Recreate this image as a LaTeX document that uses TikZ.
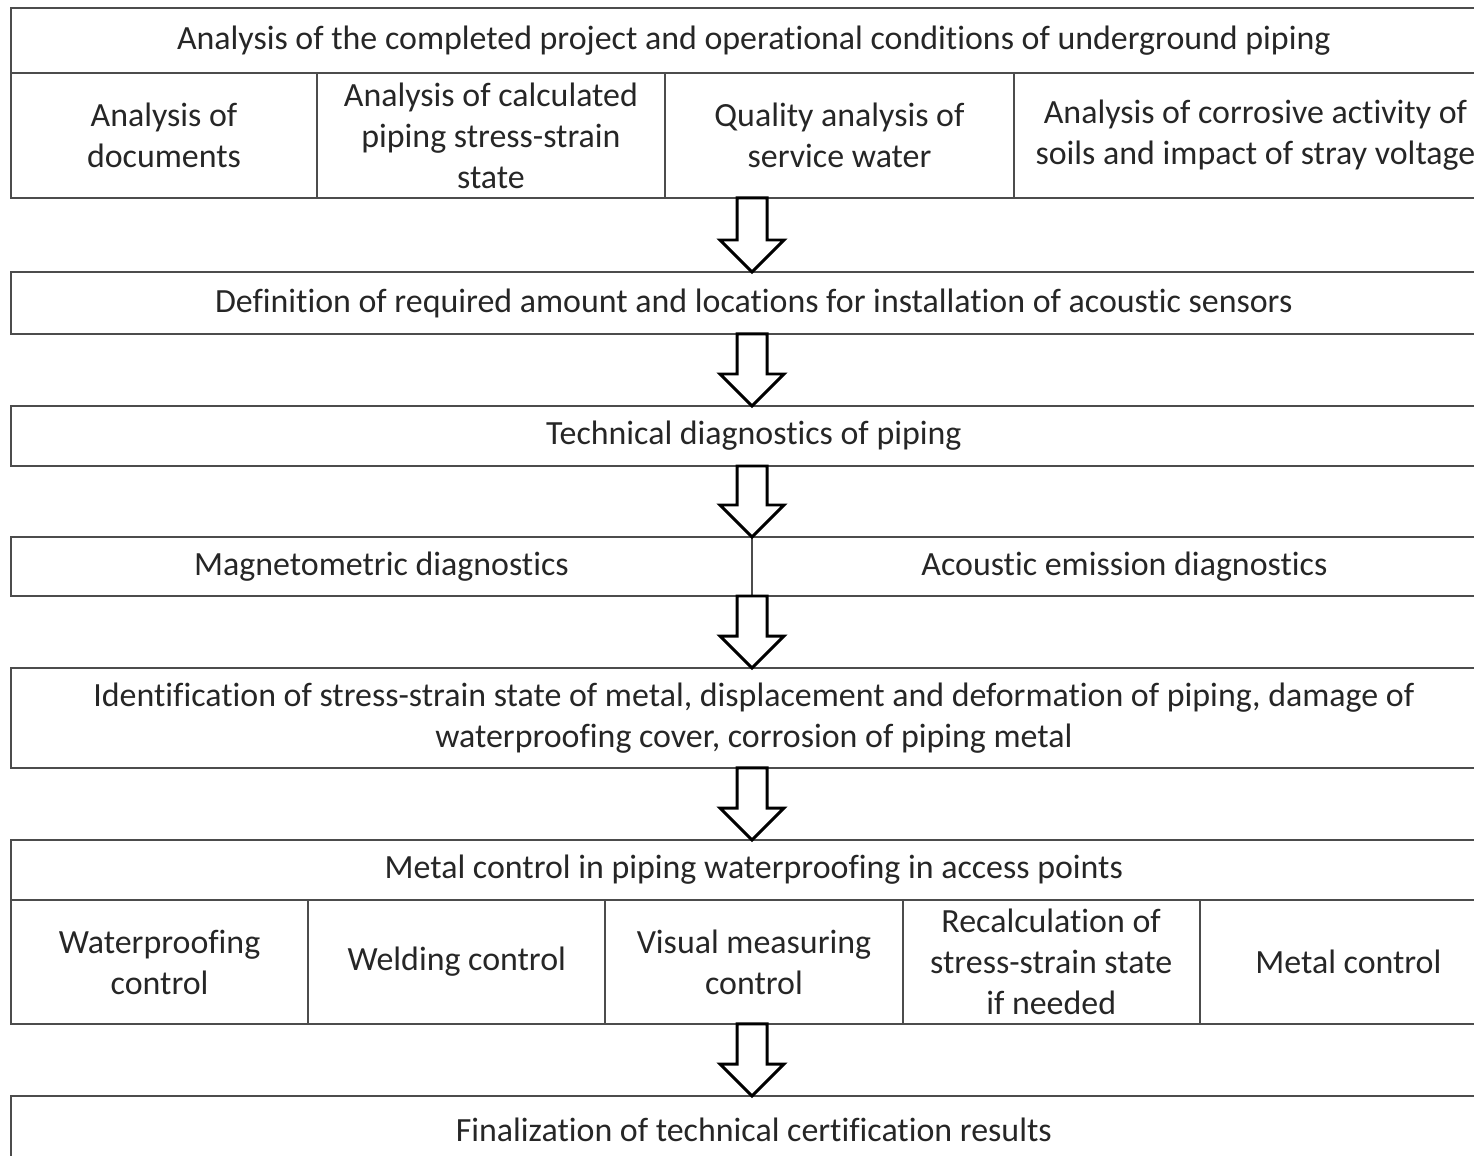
\documentclass[tikz,border=0pt]{standalone}
\usepackage{fontspec}
\setmainfont{Carlito}[Ligatures=NoCommon]
\usetikzlibrary{calc}

\newcommand{\hollowarrow}[2]{%
  \draw[hollow] ($(axis |- #1.south)+(-15,0)$) -- ($(axis |- #2.north)+(-15,-32)$)
    -- ($(axis |- #2.north)+(-32,-32)$) -- (axis |- #2.north)
    -- ($(axis |- #2.north)+(32,-32)$) -- ($(axis |- #2.north)+(15,-32)$)
    -- ($(axis |- #1.south)+(15,0)$) -- cycle;}

\begin{document}
\begin{tikzpicture}[x=0.02cm, y=-0.02cm,
  cell/.style={draw=black!70, line width=1.1pt, inner sep=0pt, outer sep=0pt,
    align=center, anchor=north west, text=black!85,
    font=\fontsize{19.3}{23.3}\selectfont},
  hollow/.style={draw=black, line width=1.7pt, line join=miter, fill=white}]
\useasboundingbox (0,0) rectangle (1474,1156);
\clip (0,0) rectangle (1474,1156);
\coordinate (axis) at (752,0);

% analysis stage
\node[cell, minimum width=29.72cm, minimum height=1.3cm] (survey) at (11,8) {Analysis of the completed project and operational conditions of underground piping};
\node[cell, minimum width=6.12cm, minimum height=2.5cm] (docs) at (11,73) {Analysis of\\documents};
\node[cell, minimum width=6.96cm, minimum height=2.5cm] (stress) at (317,73) {Analysis of calculated\\piping stress-strain\\state};
\node[cell, minimum width=6.98cm, minimum height=2.5cm] (water) at (665,73) {Quality analysis of\\service water};
\node[cell, minimum width=9.66cm, minimum height=2.5cm] (soil) at (1014,73) {Analysis of corrosive activity of\\soils and impact of stray voltage};

\node[cell, minimum width=29.72cm, minimum height=1.24cm] (sensors) at (11,272) {Definition of required amount and locations for installation of acoustic sensors};
\node[cell, minimum width=29.72cm, minimum height=1.2cm] (techdiag) at (11,406) {Technical diagnostics of piping};

% diagnostics
\node[cell, minimum width=14.82cm, minimum height=1.18cm] (magnet) at (11,537) {Magnetometric diagnostics};
\node[cell, minimum width=14.9cm, minimum height=1.18cm] (acoustic) at (752,537) {Acoustic emission diagnostics};

\node[cell, minimum width=29.72cm, minimum height=2cm] (ident) at (11,668) {Identification of stress-strain state of metal, displacement and deformation of piping, damage of\\waterproofing cover, corrosion of piping metal};

% metal control
\node[cell, minimum width=29.72cm, minimum height=1.2cm] (metal) at (11,840) {Metal control in piping waterproofing in access points};
\node[cell, minimum width=5.944cm, minimum height=2.48cm] (proof) at (11,900) {Waterproofing\\control};
\node[cell, minimum width=5.944cm, minimum height=2.48cm] (weld) at (308.2,900) {Welding control};
\node[cell, minimum width=5.944cm, minimum height=2.48cm] (visual) at (605.4,900) {Visual measuring\\control};
\node[cell, minimum width=5.944cm, minimum height=2.48cm] (recalc) at (902.6,900) {Recalculation of\\stress-strain state\\if needed};
\node[cell, minimum width=5.944cm, minimum height=2.48cm] (mctrl) at (1199.8,900) {Metal control};

\node[cell, minimum width=29.72cm, minimum height=1.36cm] (final) at (11,1096) {Finalization of technical certification results};

\hollowarrow{stress}{sensors}
\hollowarrow{sensors}{techdiag}
\hollowarrow{techdiag}{magnet}
\hollowarrow{magnet}{ident}
\hollowarrow{ident}{metal}
\hollowarrow{visual}{final}
\end{tikzpicture}
\end{document}
